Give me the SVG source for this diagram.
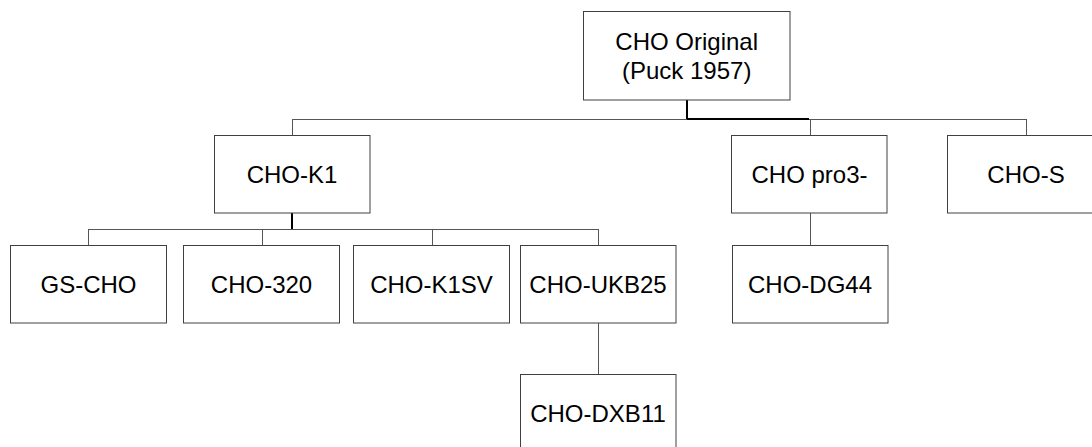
<svg xmlns="http://www.w3.org/2000/svg" width="1092" height="447" viewBox="0 0 1092 447">
<style>
.box{fill:#fff;stroke:#404040;stroke-width:1}
.t{font-family:"Liberation Sans",Arial,sans-serif;font-size:24px;fill:#000;text-anchor:middle}
.c{fill:none;stroke:#555;stroke-width:1}
.k{fill:none;stroke:#000;stroke-width:2}
</style>
<rect width="1092" height="447" fill="#fff"/>
<g id="connectors">
<path class="c" d="M292 119.5H1026.5M292.5 119V135M810.5 119V135M1026.5 119V135"/>
<path class="k" d="M687 100V119M687 119H809"/>
<path class="c" d="M88.5 229.5H598.5M88.5 229V246M262.5 229V246M432.5 229V246M598.5 229V246"/>
<path class="k" d="M292 213V229"/>
<path class="c" d="M598.5 323V374M810.5 213V246"/>
</g>
<g id="root"><rect class="box" x="583.5" y="11.5" width="206.5" height="88.5"/><text class="t" x="686.7" y="49.5">CHO Original</text><text class="t" x="686.7" y="79">(Puck 1957)</text></g>
<g id="cho-k1"><rect class="box" x="214.5" y="135.5" width="155.5" height="77.5"/><text class="t" x="292" y="182.7">CHO-K1</text></g>
<g id="cho-pro3"><rect class="box" x="731.5" y="135.5" width="155.5" height="77.5"/><text class="t" x="809.5" y="182.7">CHO pro3-</text></g>
<g id="cho-s"><rect class="box" x="947.5" y="135.5" width="156" height="77.5"/><text class="t" x="1026" y="182.7">CHO-S</text></g>
<g id="gs-cho"><rect class="box" x="10.5" y="245.5" width="156" height="77.5"/><text class="t" x="88.5" y="293">GS-CHO</text></g>
<g id="cho-320"><rect class="box" x="183.5" y="245.5" width="156" height="77.5"/><text class="t" x="261.5" y="293">CHO-320</text></g>
<g id="cho-k1sv"><rect class="box" x="353.5" y="245.5" width="156" height="77.5"/><text class="t" x="431.5" y="293">CHO-K1SV</text></g>
<g id="cho-ukb25"><rect class="box" x="520.5" y="245.5" width="155.5" height="77.5"/><text class="t" x="598" y="293">CHO-UKB25</text></g>
<g id="cho-dg44"><rect class="box" x="732.5" y="245.5" width="155.5" height="77.5"/><text class="t" x="810" y="293">CHO-DG44</text></g>
<g id="cho-dxb11"><rect class="box" x="520.5" y="374.5" width="155.5" height="78"/><text class="t" x="598" y="421.5">CHO-DXB11</text></g>
</svg>
